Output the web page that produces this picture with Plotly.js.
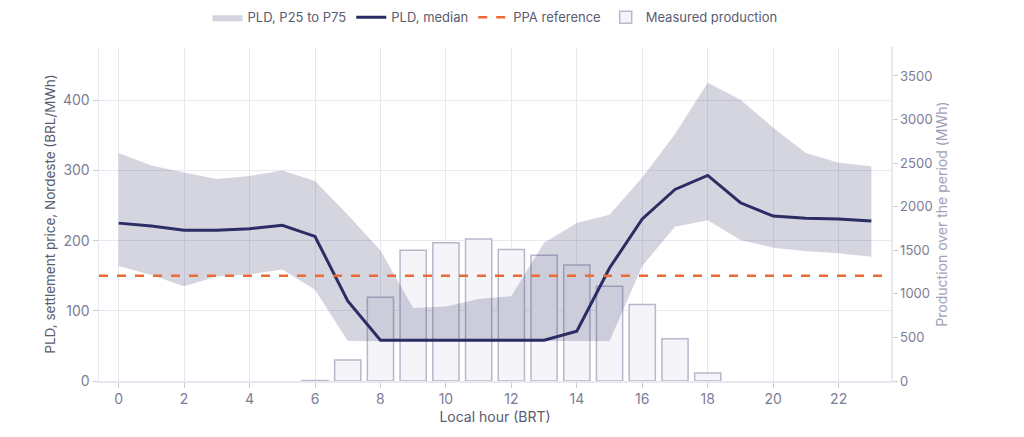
<!DOCTYPE html>
<html>
<head>
<meta charset="utf-8">
<script src="https://cdn.plot.ly/plotly-3.0.1.min.js"></script>
<style>html,body{margin:0;padding:0;background:#fff;}#chart{width:1024px;height:437px;}</style>
</head>
<body>
<div id="chart"></div>
<script>
const hours = [0,1,2,3,4,5,6,7,8,9,10,11,12,13,14,15,16,17,18,19,20,21,22,23];
const pldMedian = [225,221,215,215,217,222,206,114,58,58,58,58,58,58,71,161,231,273,293,254,235,232,231,228];
const pldP75 = [325,307,297,288,292,300,285,237,186,104,106,117,121,197,225,237,290,352,425,401,361,325,311,306];
const pldP25 = [164,151,135,149,152,159,130,57,57,57,57,57,57,57,57,57,164,220,229,201,190,185,182,177];
// null = no production measured in that hour
const production = [null,null,null,null,null,null,5,242,962,1500,1586,1630,1508,1444,1330,1088,878,485,92,null,null,null,null,null];
const ppaReference = 150;
const xRange = [-0.6, 23.6];
const xTicks = [0,2,4,6,8,10,12,14,16,18,20,22];

const navy = '#2b2d64';
const tickColor = '#7b7d96';
const gridColor = '#e8e8f1';

const data = [
  {x: hours, y: pldP25, yaxis: 'y2', type: 'scatter', mode: 'lines',
   line: {width: 0, color: 'rgba(43,45,100,0)'}, showlegend: false, hoverinfo: 'skip'},
  {x: hours, y: pldP75, yaxis: 'y2', type: 'scatter', mode: 'lines', fill: 'tonexty',
   fillcolor: 'rgba(43,45,100,0.2)', line: {width: 0, color: 'rgba(43,45,100,0)'},
   name: 'PLD, P25 to P75'},
  {x: hours, y: pldMedian, yaxis: 'y2', type: 'scatter', mode: 'lines',
   line: {width: 3, color: navy}, name: 'PLD, median'},
  {x: xRange, y: [ppaReference, ppaReference], yaxis: 'y2', type: 'scatter', mode: 'lines',
   line: {width: 2.5, color: '#ee6a34', dash: 'dash'}, name: 'PPA reference'},
  {x: hours, y: production, yaxis: 'y', type: 'bar', name: 'Measured production',
   marker: {color: '#f4f4f9', line: {color: '#b7b8cc', width: 1.5}}}
];

const layout = {
  width: 1024, height: 437,
  margin: {l: 99, r: 133, t: 47, b: 56},
  paper_bgcolor: '#fff', plot_bgcolor: '#fff',
  font: {family: 'Inter, "Noto Sans", sans-serif', size: 14, color: tickColor},
  bargap: 0.2,
  showlegend: true,
  legend: {orientation: 'h', x: 0.5, xanchor: 'center', yref: 'container', y: 0.995, yanchor: 'top',
           traceorder: 'normal',
           font: {size: 13, color: '#5a5c70'}, itemwidth: 30},
  xaxis: {range: xRange, tickvals: xTicks, ticktext: xTicks.map(String),
          showgrid: true, gridcolor: gridColor, showline: true, linecolor: gridColor, linewidth: 1.5,
          ticks: 'outside', ticklen: 5, tickcolor: '#c9cada', zeroline: false,
          tickfont: {size: 14, color: tickColor},
          title: {text: 'Local hour (BRT)', font: {size: 14, color: '#5a5c70'}, standoff: 6}},
  yaxis: {side: 'right', range: [0, 3832], tickvals: [0,500,1000,1500,2000,2500,3000,3500],
          showgrid: false, showline: true, linecolor: gridColor, linewidth: 1.5,
          ticks: 'outside', ticklen: 5, tickcolor: '#c9cada', zeroline: false,
          tickfont: {size: 13, color: tickColor},
          title: {text: 'Production over the period (MWh)', font: {size: 14, color: '#a0a2b8'}, standoff: 5}},
  yaxis2: {overlaying: 'y', side: 'left', range: [0, 476], tickvals: [0,100,200,300,400],
           showgrid: true, gridcolor: gridColor, showline: true, linecolor: gridColor, linewidth: 1.5,
           ticks: 'outside', ticklen: 5, tickcolor: '#c9cada', zeroline: false,
           tickfont: {size: 14, color: tickColor},
           title: {text: 'PLD, settlement price, Nordeste (BRL/MWh)', font: {size: 13.5, color: '#5a5c70'}, standoff: 4}}
};

Plotly.newPlot('chart', data, layout, {displayModeBar: false, staticPlot: true});
</script>
</body>
</html>
